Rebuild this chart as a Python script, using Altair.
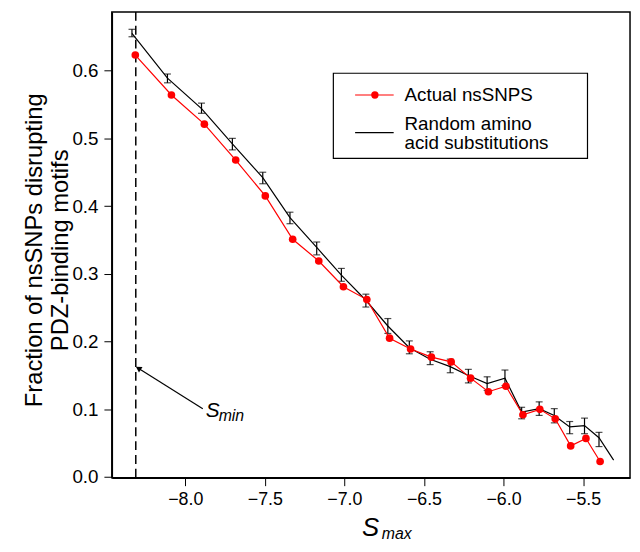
import altair as alt
import pandas as pd

# ---- data ----
red_x = [-8.314, -8.087, -7.880, -7.683, -7.497, -7.325, -7.161, -7.006, -6.859, -6.716, -6.584,
         -6.453, -6.329, -6.207, -6.095, -5.985, -5.878, -5.772, -5.675, -5.578, -5.482, -5.393]
red_y = [0.623, 0.564, 0.521, 0.468, 0.415, 0.351, 0.319, 0.281, 0.262, 0.205, 0.189,
         0.177, 0.170, 0.146, 0.126, 0.134, 0.092, 0.100, 0.086, 0.046, 0.057, 0.023]

black_x = [-8.335, -8.112, -7.898, -7.704, -7.513, -7.342, -7.174, -7.019, -6.865, -6.727, -6.592,
           -6.461, -6.335, -6.221, -6.103, -5.991, -5.886, -5.776, -5.681, -5.584, -5.491, -5.400, -5.308]
black_y = [0.655, 0.589, 0.544, 0.492, 0.442, 0.383, 0.339, 0.298, 0.261, 0.223, 0.191,
           0.174, 0.163, 0.150, 0.138, 0.146, 0.096, 0.101, 0.091, 0.074, 0.076, 0.058, 0.025]
err_lo = [0.650, 0.582, 0.537, 0.483, 0.433, 0.374, 0.328, 0.289, 0.251, 0.212, 0.182,
          0.166, 0.154, 0.139, 0.128, 0.135, 0.086, 0.091, 0.080, 0.064, 0.064, 0.045]
err_hi = [0.661, 0.595, 0.552, 0.500, 0.450, 0.391, 0.347, 0.308, 0.270, 0.234, 0.201,
          0.185, 0.174, 0.159, 0.148, 0.158, 0.103, 0.111, 0.101, 0.082, 0.087, 0.066]

smin_x = [-8.311]
arrow_tail_x = [-7.890]
arrow_tail_y = [0.101]
arrow_head_x = [-8.290]
arrow_head_y = [0.160]

x_ticks = [-8.0, -7.5, -7.0, -6.5, -6.0, -5.5]
y_ticks = [0.0, 0.1, 0.2, 0.3, 0.4, 0.5, 0.6]

FONT = "Liberation Sans"

red_df = pd.DataFrame({"x": red_x, "y": red_y})
black_df = pd.DataFrame({"x": black_x, "y": black_y})
err_df = pd.DataFrame({"x": black_x[:len(err_lo)], "lo": err_lo, "hi": err_hi})
smin_df = pd.DataFrame({"x": smin_x})
arrow_df = pd.DataFrame({"x": arrow_tail_x, "y": arrow_tail_y, "x2": arrow_head_x, "y2": arrow_head_y})
one = pd.DataFrame({"a": [0]})

xs = alt.Scale(domain=[-8.4615, -5.205], nice=False, zero=False)
ys = alt.Scale(domain=[-0.001, 0.6866], nice=False, zero=False)

xax = alt.Axis(values=x_ticks, format=".1f", title=None, grid=False, labelFontSize=18, labelPadding=5)
yax = alt.Axis(values=y_ticks, format=".1f", title=None, grid=False, labelFontSize=19, labelPadding=6)

black_line = alt.Chart(black_df).mark_line(color="black", strokeWidth=1.2).encode(
    x=alt.X("x:Q", scale=xs, axis=xax),
    y=alt.Y("y:Q", scale=ys, axis=yax),
)

err_rule = alt.Chart(err_df).mark_rule(color="black", strokeWidth=1.2).encode(
    x=alt.X("x:Q", scale=xs), y=alt.Y("lo:Q", scale=ys), y2="hi:Q"
)
err_cap_lo = alt.Chart(err_df).mark_tick(color="black", orient="horizontal", size=7, thickness=1.2).encode(
    x=alt.X("x:Q", scale=xs), y=alt.Y("lo:Q", scale=ys)
)
err_cap_hi = alt.Chart(err_df).mark_tick(color="black", orient="horizontal", size=7, thickness=1.2).encode(
    x=alt.X("x:Q", scale=xs), y=alt.Y("hi:Q", scale=ys)
)

red_line = alt.Chart(red_df).mark_line(color="#ff0000", strokeWidth=1.2).encode(
    x=alt.X("x:Q", scale=xs), y=alt.Y("y:Q", scale=ys)
)
red_pts = alt.Chart(red_df).mark_point(color="#ff0000", filled=True, size=60, opacity=1).encode(
    x=alt.X("x:Q", scale=xs), y=alt.Y("y:Q", scale=ys)
)

smin_rule = alt.Chart(smin_df).mark_rule(color="black", strokeWidth=1.5, strokeDash=[9, 5]).encode(
    x=alt.X("x:Q", scale=xs)
)

arrow_shaft = alt.Chart(arrow_df).mark_rule(color="black", strokeWidth=1.2).encode(
    x=alt.X("x:Q", scale=xs), y=alt.Y("y:Q", scale=ys), x2="x2:Q", y2="y2:Q"
)
arrow_head = alt.Chart(arrow_df).mark_point(shape="triangle", filled=True, color="black",
                                            size=45, angle=302, opacity=1).encode(
    x=alt.X("x2:Q", scale=xs), y=alt.Y("y2:Q", scale=ys)
)

smin_S = alt.Chart(one).mark_text(text="S", font=FONT, fontSize=21, fontStyle="italic",
                                  align="left", baseline="alphabetic", color="black").encode(
    x=alt.value(95), y=alt.value(410)
)
smin_sub = alt.Chart(one).mark_text(text="min", font=FONT, fontSize=16, fontStyle="italic",
                                    align="left", baseline="alphabetic", color="black").encode(
    x=alt.value(108), y=alt.value(414)
)

smax_S = alt.Chart(one).mark_text(text="S", font=FONT, fontSize=26, fontStyle="italic",
                                  align="left", baseline="alphabetic", color="black").encode(
    x=alt.value(253), y=alt.value(530)
)
smax_sub = alt.Chart(one).mark_text(text="max", font=FONT, fontSize=16, fontStyle="italic",
                                    align="left", baseline="alphabetic", color="black").encode(
    x=alt.value(273), y=alt.value(533)
)

ytitle1 = alt.Chart(one).mark_text(text="Fraction of nsSNPs disrupting", font=FONT, fontSize=24,
                                   angle=270, align="center", baseline="middle", color="black").encode(
    x=alt.value(-78), y=alt.value(241)
)
ytitle2 = alt.Chart(one).mark_text(text="PDZ-binding motifs", font=FONT, fontSize=24,
                                   angle=270, align="center", baseline="middle", color="black").encode(
    x=alt.value(-51), y=alt.value(241)
)

# legend (manual)
leg_box = alt.Chart(one).mark_rect(fill="white", stroke="black", strokeWidth=1.2).encode(
    x=alt.value(224), x2=alt.value(481), y=alt.value(62), y2=alt.value(148)
)
leg_red_line = alt.Chart(one).mark_rule(color="#ff0000", strokeWidth=1.2).encode(
    x=alt.value(246), x2=alt.value(285), y=alt.value(84)
)
leg_red_pt = alt.Chart(one).mark_point(color="#ff0000", filled=True, size=55, opacity=1).encode(
    x=alt.value(266), y=alt.value(84)
)
leg_black_line = alt.Chart(one).mark_rule(color="black", strokeWidth=1.2).encode(
    x=alt.value(246), x2=alt.value(285), y=alt.value(122)
)
leg_t1 = alt.Chart(one).mark_text(text="Actual nsSNPS", font=FONT, fontSize=19, align="left",
                                  baseline="middle", color="black").encode(x=alt.value(296), y=alt.value(84))
leg_t2 = alt.Chart(one).mark_text(text="Random amino", font=FONT, fontSize=19, align="left",
                                  baseline="middle", color="black").encode(x=alt.value(296), y=alt.value(113))
leg_t3 = alt.Chart(one).mark_text(text="acid substitutions", font=FONT, fontSize=19, align="left",
                                  baseline="middle", color="black").encode(x=alt.value(296), y=alt.value(133))

chart = alt.layer(
    black_line, smin_rule, err_rule, err_cap_lo, err_cap_hi, red_line, red_pts,
    arrow_shaft, arrow_head, smin_S, smin_sub, smax_S, smax_sub, ytitle1, ytitle2,
    leg_box, leg_red_line, leg_red_pt, leg_black_line, leg_t1, leg_t2, leg_t3,
).properties(
    width=524, height=471,
    autosize=alt.AutoSizeParams(type="none"),
    padding={"left": 105, "top": 1, "right": 2, "bottom": 64},
).configure_view(
    stroke="black", strokeWidth=1.5
).configure_axis(
    labelFont=FONT, labelColor="black",
    tickColor="black", domainColor="black", tickSize=8, tickWidth=1,
    domainWidth=1.5,
)

chart.save("out.html", embed_options={"renderer": "svg", "actions": False})
